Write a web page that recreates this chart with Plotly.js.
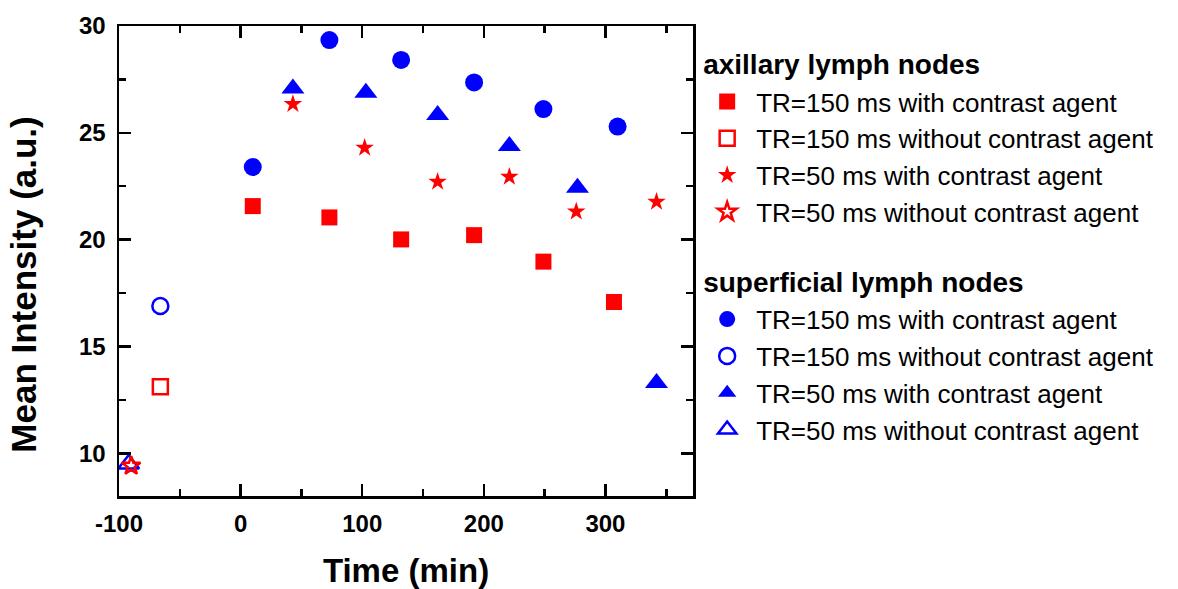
<!DOCTYPE html>
<html>
<head>
<meta charset="utf-8">
<script src="https://cdn.plot.ly/plotly-3.0.1.min.js"></script>
<style>html,body{margin:0;padding:0;background:#fff;}#chart{width:1178px;height:589px;}</style>
</head>
<body>
<div id="chart"></div>
<script>
// Axillary lymph nodes
var axTR150wX = [10, 73, 132, 192, 249, 307];
var axTR150wY = [21.57, 21.04, 20.01, 20.21, 18.97, 17.08];
var axTR150woX = [-66];
var axTR150woY = [13.11];
var axTR50wX = [43, 102, 162, 221, 276, 342];
var axTR50wY = [26.35, 24.3, 22.71, 22.94, 21.31, 21.77];
var axTR50woX = [-90];
var axTR50woY = [9.41];
// Superficial lymph nodes
var suTR150wX = [10, 73, 132, 192, 249, 310];
var suTR150wY = [23.4, 29.34, 28.41, 27.36, 26.11, 25.29];
var suTR150woX = [-66];
var suTR150woY = [16.89];
var suTR50wX = [43, 103, 162, 221, 277, 342];
var suTR50wY = [27.08, 26.88, 25.83, 24.38, 22.43, 13.29];
var suTR50woX = [-92];
var suTR50woY = [9.5];

var labels = ['TR=150 ms with contrast agent', 'TR=150 ms without contrast agent',
              'TR=50 ms with contrast agent', 'TR=50 ms without contrast agent'];
var groupTitles = ['axillary lymph nodes', 'superficial lymph nodes'];
var xTickVals = [-100, 0, 100, 200, 300];
var xTickText = ['-100', '0', '100', '200', '300'];
var yTickVals = [10, 15, 20, 25, 30];
var yTickText = ['10', '15', '20', '25', '30'];

var RED = '#ff0000', BLUE = '#0000ff';
var FONT = 'Arial, "Liberation Sans", sans-serif';

function tr(x, y, name, legend, group, gtitle, rank, symbol, size, color, open) {
  return {
    x: x, y: y, type: 'scatter', mode: 'markers', name: name,
    legend: legend, legendgroup: group, legendrank: rank,
    legendgrouptitle: {text: '<b>' + gtitle + '</b>', font: {size: 28, color: '#000', family: FONT}},
    marker: {symbol: symbol, size: size, color: color,
             line: {width: open ? 2.5 : 0, color: color}},
    hoverinfo: 'x+y'
  };
}

var data = [
  tr(suTR150wX, suTR150wY, labels[0], 'legend2', 'su', groupTitles[1], 5, 'circle', 18, BLUE, false),
  tr(suTR150woX, suTR150woY, labels[1], 'legend2', 'su', groupTitles[1], 6, 'circle-open', 16, BLUE, true),
  tr(suTR50wX, suTR50wY, labels[2], 'legend2', 'su', groupTitles[1], 7, 'triangle-up', 20, BLUE, false),
  tr(suTR50woX, suTR50woY, labels[3], 'legend2', 'su', groupTitles[1], 8, 'triangle-up-open', 18, BLUE, true),
  tr(axTR150wX, axTR150wY, labels[0], 'legend', 'ax', groupTitles[0], 1, 'square', 16, RED, false),
  tr(axTR150woX, axTR150woY, labels[1], 'legend', 'ax', groupTitles[0], 2, 'square-open', 15, RED, true),
  tr(axTR50wX, axTR50wY, labels[2], 'legend', 'ax', groupTitles[0], 3, 'star', 14, RED, false),
  tr(axTR50woX, axTR50woY, labels[3], 'legend', 'ax', groupTitles[0], 4, 'star-open', 14, RED, true)
];

var axisCommon = {
  showline: true, linecolor: '#000', linewidth: 2.5, mirror: 'ticks',
  ticks: 'inside', ticklen: 12, tickwidth: 2.5, tickcolor: '#000',
  showgrid: false, zeroline: false,
  tickfont: {family: FONT, size: 24, color: '#000', weight: 'bold'}
};

var legendCommon = {
  xanchor: 'left', yanchor: 'top', traceorder: 'grouped',
  font: {family: FONT, size: 26, color: '#000'},
  bgcolor: 'rgba(0,0,0,0)', borderwidth: 0, itemwidth: 48
};

var layout = {
  width: 1178, height: 589,
  margin: {l: 119, r: 485, t: 26, b: 93},
  paper_bgcolor: '#fff', plot_bgcolor: '#fff',
  font: {family: FONT, color: '#000'},
  showlegend: true,
  xaxis: Object.assign({}, axisCommon, {
    range: [-100, 372], tickmode: 'array', tickvals: xTickVals, ticktext: xTickText,
    minor: {ticks: 'inside', dtick: 50, tick0: 0, ticklen: 7, tickwidth: 2.5, tickcolor: '#000'},
    ticklabelstandoff: 5,
    title: {text: '<b>Time (min)</b>', font: {family: FONT, size: 33, color: '#000'}, standoff: 34}
  }),
  yaxis: Object.assign({}, axisCommon, {
    range: [8, 30], tickmode: 'array', tickvals: yTickVals, ticktext: yTickText,
    minor: {ticks: 'inside', dtick: 2.5, tick0: 0, ticklen: 7, tickwidth: 2.5, tickcolor: '#000'},
    ticklabelstandoff: 6
  }),
  annotations: [{
    text: '<b>Mean Intensity (a.u.)</b>', textangle: -90,
    xref: 'paper', yref: 'paper', x: -0.166, y: 0.449,
    xanchor: 'center', yanchor: 'middle', showarrow: false,
    font: {family: FONT, size: 35, color: '#000'}
  }],
  legend: Object.assign({}, legendCommon, {x: 1.009, y: 0.973}),
  legend2: Object.assign({}, legendCommon, {x: 1.009, y: 0.51})
};

Plotly.newPlot('chart', data, layout, {displayModeBar: false, staticPlot: true});
</script>
</body>
</html>
